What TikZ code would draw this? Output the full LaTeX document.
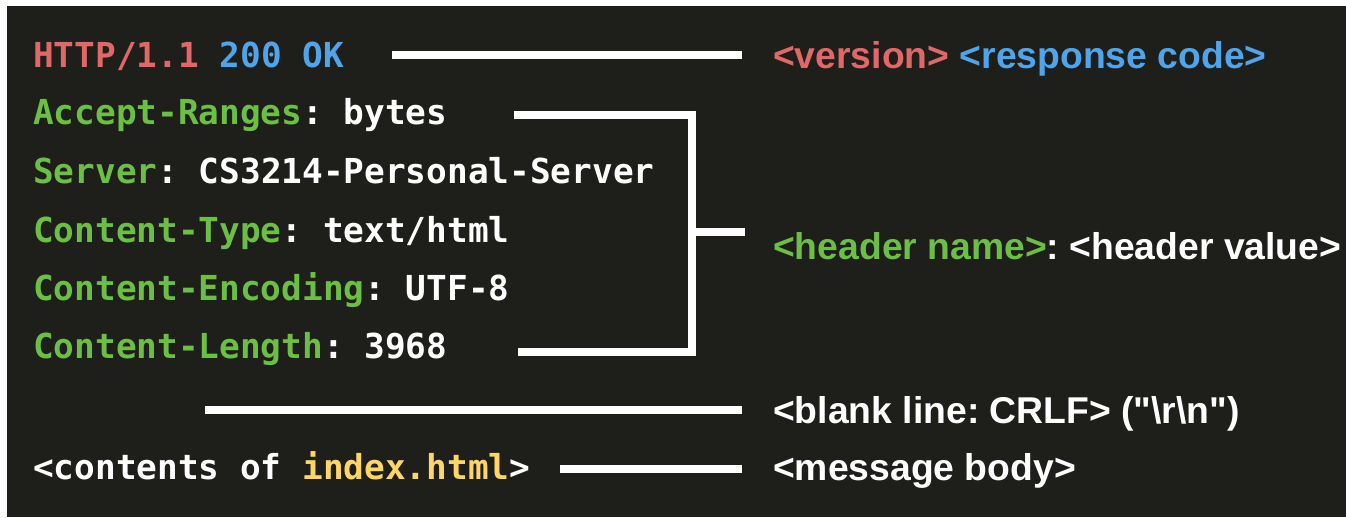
\documentclass[tikz,border=0pt]{standalone}
\usepackage{fontspec}
\newfontfamily\codefont{DejaVu Sans Mono}
\newfontfamily\labfont{Liberation Sans}
\definecolor{bg}{RGB}{30,30,27}
\definecolor{cred}{RGB}{224,104,104}
\definecolor{cblue}{RGB}{80,164,234}
\definecolor{cgreen}{RGB}{108,190,68}
\definecolor{cyellow}{RGB}{255,214,102}
\frenchspacing
\begin{document}
\begin{tikzpicture}[x=1pt,y=-1pt,
  code/.style={anchor=base west, inner sep=0pt, text=white, font=\codefont\bfseries\fontsize{34.4}{40}\selectfont\frenchspacing},
  lab/.style={anchor=base west, inner sep=0pt, text=white, font=\labfont\bfseries\fontsize{37.3}{44}\selectfont},
  conn/.style={draw=white, line width=7.5pt, line join=miter}]
\useasboundingbox (0,0) rectangle (1346,517);
\fill[white] (0,0) rectangle (1346,517);
\fill[bg] (7,6) rectangle (1346,517);
% code lines
\node[code] (l1) at (33,67) {\textcolor{cred}{HTTP/1.1} \textcolor{cblue}{200 OK}};
\node[code] (l2) at (33,124.5) {\textcolor{cgreen}{Accept-Ranges}: bytes};
\node[code] (l3) at (33,183.5) {\textcolor{cgreen}{Server}: CS3214-Personal-Server};
\node[code] (l4) at (33,242) {\textcolor{cgreen}{Content-Type}: text/html};
\node[code] (l5) at (33,300.5) {\textcolor{cgreen}{Content-Encoding}: UTF-8};
\node[code] (l6) at (33,358.5) {\textcolor{cgreen}{Content-Length}: 3968};
\node[code] (l7) at (33,479) {<contents of \textcolor{cyellow}{index.html}>};
% labels
\node[lab] (t1) at (773,68) {\textcolor{cred}{<version>} \textcolor{cblue}{<response code>}};
\node[lab] (t2) at (773,259) {\textcolor{cgreen}{<header name>}: <header value>};
\node[lab] (t3) at (773,423) {<blank line: CRLF> ("\textbackslash r\textbackslash n")};
\node[lab] (t4) at (773,480) {<message body>};
% connector coordinates
\coordinate (a1) at (392,55);  \coordinate (a2) at (742,55);
\coordinate (b1) at (514,115); \coordinate (b2) at (692,115);
\coordinate (b3) at (692,352); \coordinate (b4) at (518,352);
\coordinate (b5) at (692,232); \coordinate (b6) at (745,232);
\coordinate (c1) at (205,410); \coordinate (c2) at (742,410);
\coordinate (d1) at (560,469); \coordinate (d2) at (742,469);
\draw[conn] (a1) -- (a2);
\draw[conn] (b1) -- (b2) -- (b3) -- (b4);
\draw[conn] (b5) -- (b6);
\draw[conn] (c1) -- (c2);
\draw[conn] (d1) -- (d2);
\end{tikzpicture}
\end{document}
